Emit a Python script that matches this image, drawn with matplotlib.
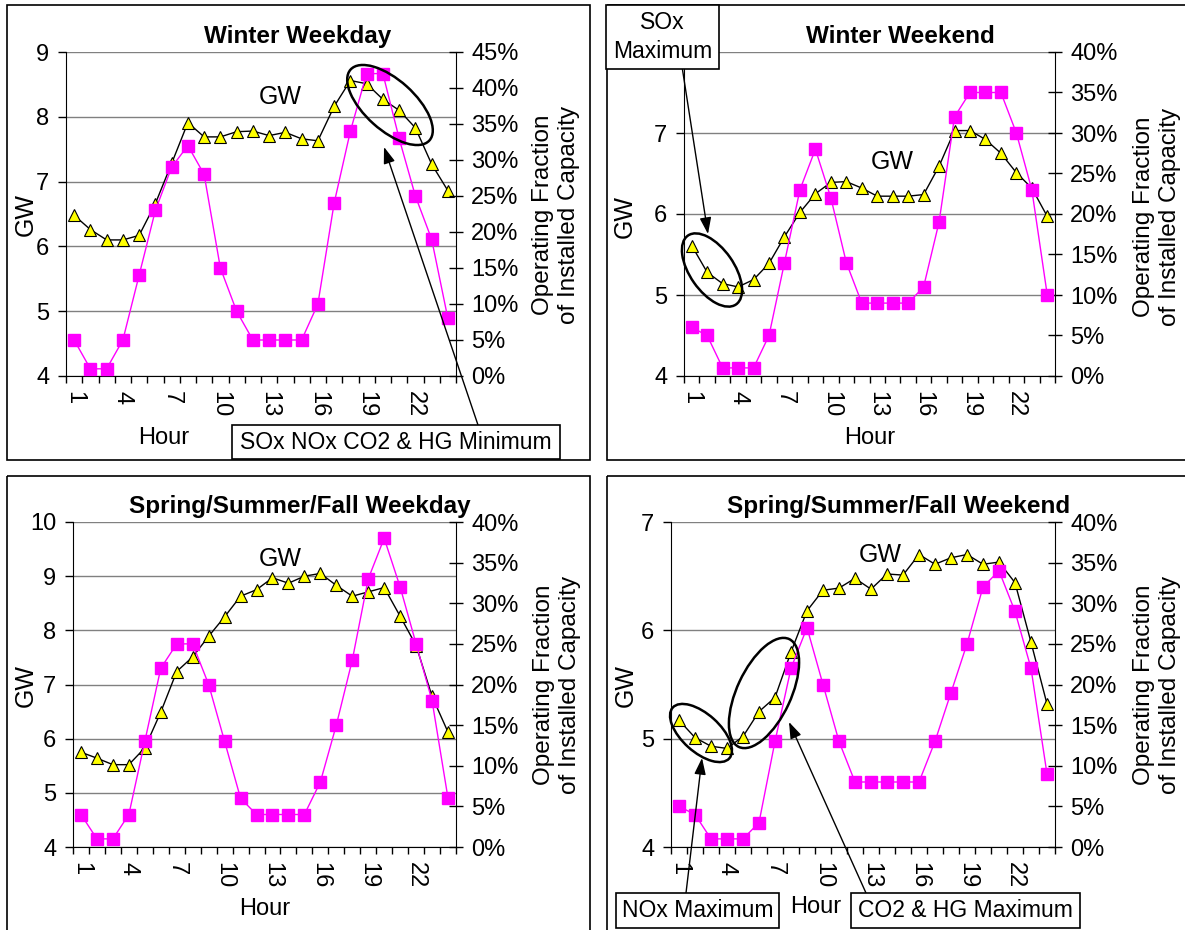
import numpy as np
import matplotlib
matplotlib.use("Agg")
import matplotlib.pyplot as plt
from matplotlib.patches import Ellipse, Rectangle
from matplotlib.ticker import PercentFormatter

plt.rcParams['font.family'] = ['Liberation Sans', 'DejaVu Sans']

# hourly profiles
hours = np.arange(1, 25)
tick_hours = [1, 4, 7, 10, 13, 16, 19, 22]

winter_wd_gw = [6.48, 6.26, 6.10, 6.10, 6.17, 6.66, 7.28, 7.91, 7.69, 7.69, 7.77, 7.78,
                7.71, 7.76, 7.66, 7.63, 8.16, 8.56, 8.51, 8.27, 8.10, 7.83, 7.27, 6.86]
winter_wd_pct = [5, 1, 1, 5, 14, 23, 29, 32, 28, 15, 9, 5,
                 5, 5, 5, 10, 24, 34, 42, 42, 33, 25, 19, 8]

winter_we_gw = [5.61, 5.28, 5.14, 5.10, 5.19, 5.39, 5.72, 6.02, 6.25, 6.39, 6.40, 6.32,
                6.22, 6.22, 6.22, 6.24, 6.59, 7.03, 7.03, 6.92, 6.75, 6.51, 6.32, 5.97]
winter_we_pct = [6, 5, 1, 1, 1, 5, 14, 23, 28, 22, 14, 9,
                 9, 9, 9, 11, 19, 32, 35, 35, 35, 30, 23, 10]

ssf_wd_gw = [5.75, 5.64, 5.52, 5.52, 5.83, 6.49, 7.24, 7.51, 7.89, 8.25, 8.63, 8.75,
             8.97, 8.87, 9.00, 9.05, 8.83, 8.63, 8.71, 8.79, 8.26, 7.72, 6.78, 6.12]
ssf_wd_pct = [4, 1, 1, 4, 13, 22, 25, 25, 20, 13, 6, 4,
              4, 4, 4, 8, 15, 23, 33, 38, 32, 25, 18, 6]

ssf_we_gw = [5.17, 5.01, 4.93, 4.91, 5.02, 5.25, 5.38, 5.80, 6.18, 6.37, 6.39, 6.48,
             6.38, 6.52, 6.51, 6.70, 6.61, 6.67, 6.70, 6.61, 6.63, 6.44, 5.89, 5.32]
ssf_we_pct = [5, 4, 1, 1, 1, 3, 13, 22, 27, 20, 13, 8,
              8, 8, 8, 8, 13, 19, 25, 32, 34, 29, 22, 9]

titles = ['Winter Weekday', 'Winter Weekend',
          'Spring/Summer/Fall Weekday', 'Spring/Summer/Fall Weekend']

W, H = 1185, 930
fig = plt.figure(figsize=(W / 100, H / 100), dpi=100)

MAGENTA = '#FF00FF'
YELLOW = '#FFFF00'


def panel(rect, gw, pct, gw_lim, pct_top, gw_xy, hide_top_label=False):
    x0, y0, x1, y1 = rect
    ax = fig.add_axes([x0 / W, 1 - y1 / H, (x1 - x0) / W, (y1 - y0) / H])
    ax.plot(hours, gw, color='k', lw=1, marker='^', ms=9,
            mfc=YELLOW, mec='k', mew=0.8, zorder=3)
    ax.set_xlim(0.5, 24.5)
    ax.set_ylim(*gw_lim)
    yt = np.arange(gw_lim[0], gw_lim[1] + 1)
    ax.set_yticks(yt)
    labels = [str(v) for v in yt]
    if hide_top_label:
        # sits under the callout box in the original
        labels[-1] = ''
    ax.set_yticklabels(labels)
    ax.grid(axis='y', color='#808080', lw=1)
    ax.set_axisbelow(True)
    ax.set_xticks(np.arange(0.5, 25, 1))
    ax.set_xticklabels([])
    ax.set_xticks(tick_hours, minor=True)
    ax.set_xticklabels([str(h) for h in tick_hours], minor=True, rotation=270)
    ax.tick_params(axis='x', which='major', direction='out', length=5, width=1)
    ax.tick_params(axis='x', which='minor', length=0, pad=11, labelsize=17)
    ax.tick_params(axis='y', direction='out', length=6, width=1, pad=6, labelsize=17)
    ax.spines['top'].set_visible(False)
    ax.spines['right'].set_visible(False)
    ax.text(gw_xy[0], gw_xy[1], 'GW', ha='center', va='center', fontsize=18)

    ax2 = ax.twinx()
    ax2.plot(hours, pct, color=MAGENTA, lw=1, marker='s', ms=8,
             mfc=MAGENTA, mec=MAGENTA, zorder=3)
    ax2.set_ylim(0, pct_top)
    ax2.set_yticks(np.arange(0, pct_top + 1, 5))
    ax2.yaxis.set_major_formatter(PercentFormatter(decimals=0))
    ax2.tick_params(axis='y', direction='inout', length=10, width=1, pad=6, labelsize=17)
    for s in ['top', 'left', 'bottom']:
        ax2.spines[s].set_visible(False)
    return ax, ax2


panel((66, 52, 456, 376), winter_wd_gw, winter_wd_pct, (4, 9), 45, (13.66, 8.30))
panel((684, 52, 1055, 376), winter_we_gw, winter_we_pct, (4, 8), 40, (13.94, 6.64),
      hide_top_label=True)
panel((73, 522, 456, 847), ssf_wd_gw, ssf_wd_pct, (4, 10), 40, (13.48, 9.32))
panel((671, 522, 1055, 847), ssf_we_gw, ssf_we_pct, (4, 7), 40, (13.6, 6.70))

# overlay in pixel units for frames, titles, labels and callouts
ov = fig.add_axes([0, 0, 1, 1], zorder=10)
ov.set_xlim(0, W)
ov.set_ylim(H, 0)
ov.axis('off')
ov.patch.set_visible(False)

for bx, by, bw, bh in [(7, 5, 583, 455), (607, 5, 590, 455),
                       (7, 476, 583, 470), (607, 476, 590, 470)]:
    ov.add_patch(Rectangle((bx, by), bw, bh, fill=False, ec='k', lw=1.2))

for (tx, ty), t in zip([(298, 43), (900, 43), (300, 513), (899, 513)], titles):
    ov.text(tx, ty, t, ha='center', va='baseline', fontsize=17.5, fontweight='bold')

for hx, hy in [(164, 438), (870, 438), (265, 909), (816, 907)]:
    ov.text(hx, hy, 'Hour', ha='center', va='center', fontsize=17)

for gx, gy in [(26, 214), (625, 216), (26, 685), (626, 685)]:
    ov.text(gx, gy, 'GW', ha='center', va='center', rotation=90, fontsize=18)

for rx, ry in [(556, 215), (1157, 217), (557, 685), (1157, 685)]:
    ov.text(rx, ry, 'Operating Fraction\nof Installed Capacity', ha='center', va='center',
            rotation=90, fontsize=17.5, linespacing=1.25, multialignment='center')

for cx, cy, ew, eh, ang in [(390, 105, 106, 50, 42), (712, 270, 84, 44, 55),
                            (701, 733, 76, 38, 42), (764, 693, 119, 54, -65)]:
    ov.add_patch(Ellipse((cx, cy), ew, eh, angle=ang, fill=False, ec='k', lw=1.8))

arrow = dict(arrowstyle='-|>,head_length=1.0,head_width=0.35', color='k', lw=1,
             shrinkA=0, shrinkB=0)
for start, tip in [((478, 425), (384, 147)), ((681, 60), (708, 234)),
                   ((686, 893), (702, 758)), ((866, 893), (789, 722))]:
    ov.annotate('', xy=tip, xytext=start, arrowprops=arrow)

for bx, by, bw, bh, t in [(232, 425, 328, 34, 'SOx NOx CO2 & HG Minimum'),
                          (606, 5, 113, 64, 'SOx\nMaximum'),
                          (616, 893, 163, 35, 'NOx Maximum'),
                          (851, 893, 229, 35, 'CO2 & HG Maximum')]:
    ov.add_patch(Rectangle((bx, by), bw, bh, fc='white', ec='k', lw=1.2, zorder=4))
    ov.text(bx + bw / 2, by + bh / 2, t, ha='center', va='center', fontsize=16.5,
            linespacing=1.3, zorder=5)

fig.savefig('out.png', dpi=100)
